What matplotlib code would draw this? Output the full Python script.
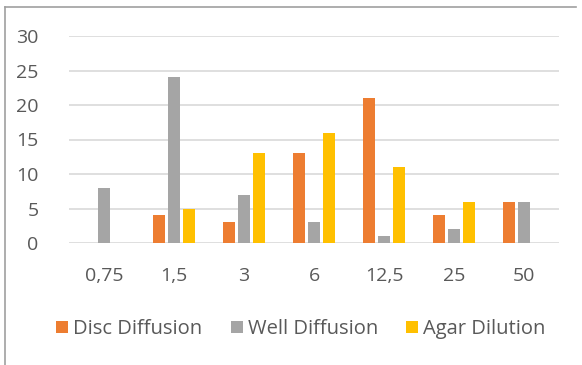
import matplotlib
matplotlib.use("Agg")
import matplotlib.pyplot as plt
from matplotlib.lines import Line2D
import numpy as np

categories = ["0,75", "1,5", "3", "6", "12,5", "25", "50"]
disc = [0, 4, 3, 13, 21, 4, 6]
well = [8, 24, 7, 3, 1, 2, 6]
agar = [0, 5, 13, 16, 11, 6, 0]
series_names = ["Disc Diffusion", "Well Diffusion", "Agar Dilution"]
colors = ["#ED7D31", "#A5A5A5", "#FFC000"]
yticks = [0, 5, 10, 15, 20, 25, 30]

plt.rcParams['font.family'] = ['Open Sans', 'DejaVu Sans']
fig = plt.figure(figsize=(5.82, 3.65), dpi=100)
ax = fig.add_axes([69/582, (365-243)/365, (559-69)/582, (243-36)/365])

x = np.arange(len(categories))
w = 0.18
off = 0.214
for i, (vals, name, c) in enumerate(zip([disc, well, agar], series_names, colors)):
    ax.bar(x + (i - 1) * off, vals, width=w, color=c, label=name, zorder=3)

ax.set_xlim(-0.5, len(categories) - 0.5)
ax.set_ylim(0, 30)
ax.set_yticks(yticks)
ax.set_yticklabels([str(t) for t in yticks])
ax.set_xticks(x)
ax.set_xticklabels(categories)
ax.grid(axis='y', color='#D9D9D9', linewidth=1.2, zorder=0)
for s in ax.spines.values():
    s.set_visible(False)
ax.tick_params(axis='both', length=0, labelsize=14, labelcolor='#595959')
ax.tick_params(axis='y', pad=22)
ax.tick_params(axis='x', pad=17)

leg = fig.legend(loc='center', bbox_to_anchor=(301/582, (365-329)/365), ncol=3, frameon=False,
                 fontsize=14.5, handlelength=0.6, handleheight=0.6, handletextpad=0.25,
                 columnspacing=1.4, labelcolor='#595959')

# chart border (left and top)
fig.add_artist(Line2D([5/582, 5/582], [0, (365-7)/365], color='#A0A0A0', linewidth=1.2))
fig.add_artist(Line2D([5/582, 576/582], [(365-7)/365, (365-7)/365], color='#A0A0A0', linewidth=1.2))

fig.savefig("out.png", dpi=100)
